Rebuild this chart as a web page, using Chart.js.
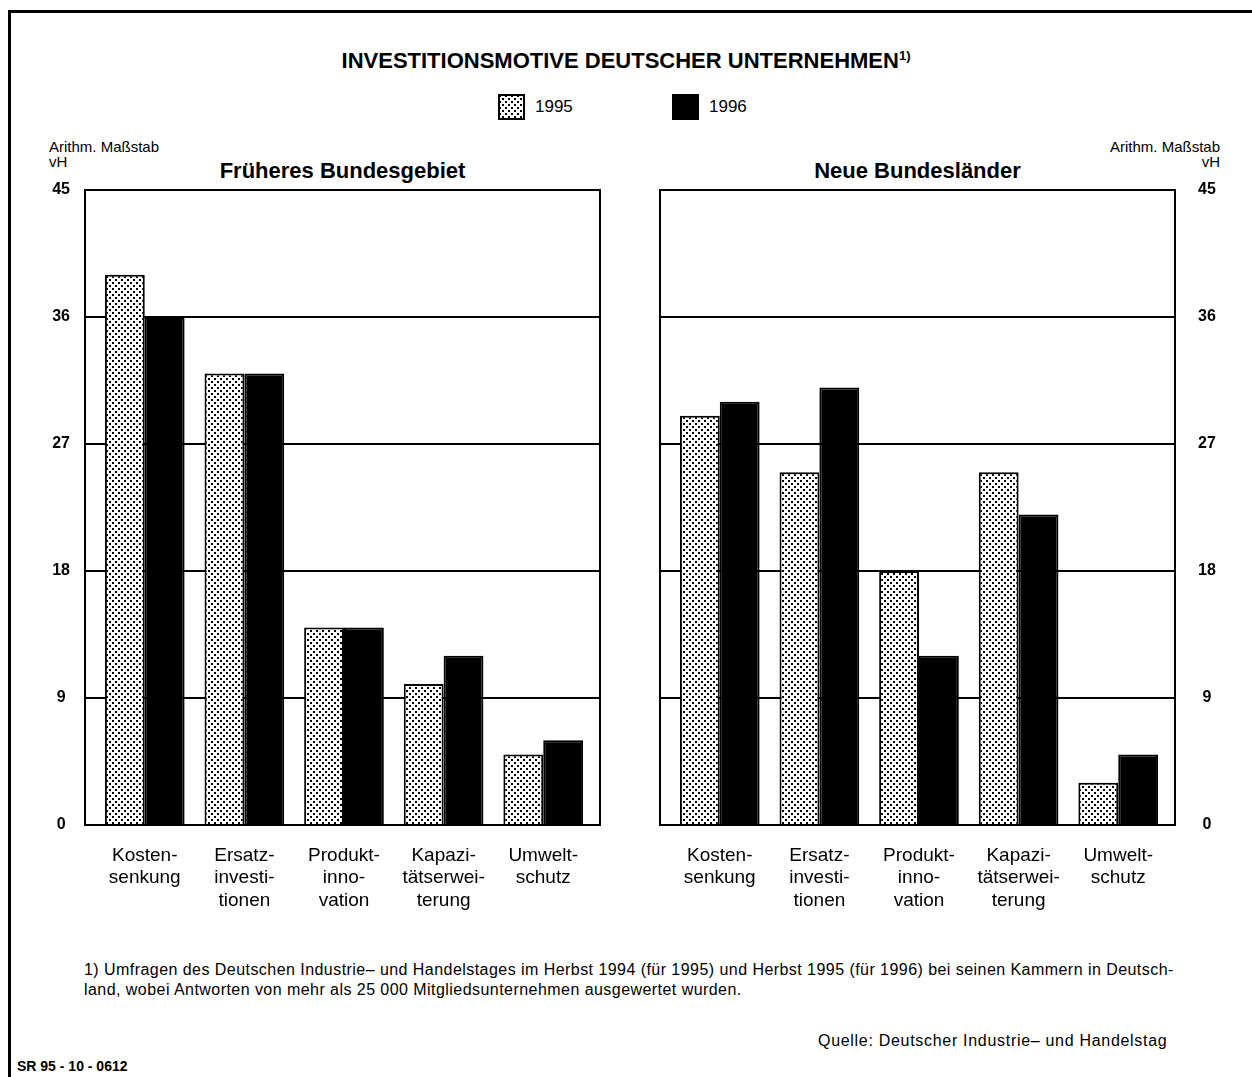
<!DOCTYPE html>
<html>
<head>
<meta charset="utf-8">
<script src="https://cdn.jsdelivr.net/npm/chart.js@4.4.1/dist/chart.umd.min.js"></script>
<style>
  body { margin:0; background:#fff; width:1252px; height:1077px; position:relative; overflow:hidden;
         font-family:"Liberation Sans", Arial, sans-serif; color:#000; }
  .abs { position:absolute; white-space:nowrap; }
  #frameTop { left:8px; top:10px; width:1244px; height:3px; background:#000; }
  #frameLeft { left:8px; top:10px; width:3px; height:1067px; background:#000; }
  #title { left:0; width:1252px; top:48px; text-align:center; font-weight:bold; font-size:22px; }
  #title sup { font-size:13px; vertical-align:8px; }
  .sw { width:27px; height:26px; border:2px solid #000; box-sizing:border-box; }
  #sw95 { left:498px; top:94px;
          background: radial-gradient(circle, #000 0.9px, transparent 1.3px) 0 0/6px 6px,
                      radial-gradient(circle, #000 0.9px, transparent 1.3px) 3px 3px/6px 6px, #fff; }
  #sw96 { left:672px; top:94px; background:#000; }
  .lg { font-size:17px; top:97px; }
  .panel { font-weight:bold; font-size:22px; top:158px; }
  .unit { font-size:15px; line-height:15px; }
  canvas { position:absolute; }
</style>
</head>
<body>
<div id="frameTop" class="abs"></div>
<div id="frameLeft" class="abs"></div>
<div id="title" class="abs">INVESTITIONSMOTIVE DEUTSCHER UNTERNEHMEN<sup>1)</sup></div>
<div id="sw95" class="abs sw"></div>
<div class="abs lg" style="left:535px">1995</div>
<div id="sw96" class="abs sw"></div>
<div class="abs lg" style="left:709px">1996</div>

<div class="abs unit" style="left:49px; top:139px">Arithm. Maßstab<br>vH</div>
<div class="abs unit" style="left:1000px; width:220px; text-align:right; top:139px">Arithm. Maßstab<br>vH</div>
<div class="abs panel" style="left:85px; width:515px; text-align:center">Früheres Bundesgebiet</div>
<div class="abs panel" style="left:660px; width:515px; text-align:center">Neue Bundesländer</div>

<canvas id="west" style="left:40px; top:180px"></canvas>
<canvas id="east" style="left:650px; top:180px"></canvas>

<div class="abs" style="left:84px; top:960px; line-height:20px; font-size:16px; letter-spacing:0.45px">1) Umfragen des Deutschen Industrie– und Handelstages im Herbst 1994 (für 1995) und Herbst 1995 (für 1996) bei seinen Kammern in Deutsch-<br>land, wobei Antworten von mehr als 25 000 Mitgliedsunternehmen ausgewertet wurden.</div>
<div class="abs" style="left:818px; top:1032px; font-size:16px; letter-spacing:0.7px">Quelle: Deutscher Industrie– und Handelstag</div>
<div class="abs" style="left:17px; top:1058px; font-size:14px; font-weight:bold">SR 95 - 10 - 0612</div>

<script>
var categories = [
  ["Kosten-", "senkung"],
  ["Ersatz-", "investi-", "tionen"],
  ["Produkt-", "inno-", "vation"],
  ["Kapazi-", "tätserwei-", "terung"],
  ["Umwelt-", "schutz"]
];
var west1995 = [39, 32, 14, 10, 5];
var west1996 = [36, 32, 14, 12, 6];
var east1995 = [29, 25, 18, 25, 3];
var east1996 = [30, 31, 12, 22, 5];
var yMax = 45;
var yStep = 9;

function makeDots(){
  var c = document.createElement("canvas");
  c.width = 6; c.height = 6;
  var g = c.getContext("2d");
  g.fillStyle = "#fff";
  g.fillRect(0, 0, 6, 6);
  g.fillStyle = "#000";
  g.fillRect(0, 0, 2, 2);
  g.fillRect(3, 3, 2, 2);
  return g.createPattern(c, "repeat");
}
var dots = makeDots();

var framePlugin = {
  id: "frame",
  afterDatasetsDraw: function(chart){
    var a = chart.chartArea, ctx = chart.ctx;
    ctx.save();
    ctx.strokeStyle = "#000";
    ctx.lineWidth = 2;
    ctx.strokeRect(a.left, a.top, a.right - a.left, a.bottom - a.top);
    ctx.restore();
  }
};

// keep the plot box where the picture has it: no extra label padding
function noPad(s){
  s.paddingTop = 0; s.paddingBottom = 0;
  s.paddingLeft = 0; s.paddingRight = 0;
}

function drawPanel(id, d95, d96, side, w){
  var cv = document.getElementById(id);
  cv.width = w; cv.height = 760;
  cv.style.width = w + "px"; cv.style.height = "760px";
  new Chart(cv, {
    type: "bar",
    data: {
      labels: [0, 1, 2, 3, 4],
      datasets: [{
        label: "1995",
        data: d95,
        backgroundColor: dots,
        borderColor: "#000",
        borderWidth: 2,
        categoryPercentage: 0.8,
        barPercentage: 1.0
      }, {
        label: "1996",
        data: d96,
        backgroundColor: "#000",
        borderColor: "#000",
        borderWidth: 2,
        categoryPercentage: 0.8,
        barPercentage: 1.0
      }]
    },
    options: {
      responsive: false,
      animation: false,
      layout: { padding: side == "left" ? {top: 10, right: 10, left: 0, bottom: 0} : {top: 10, right: 0, left: 10, bottom: 0} },
      plugins: { legend: { display: false }, tooltip: { enabled: false } },
      scales: {
        x: {
          type: "linear",
          min: -0.6,
          max: 4.57,
          offset: false,
          grid: { display: false, offset: false },
          border: { display: false },
          afterFit: function(s){ s.height = 115; noPad(s); },
          ticks: {
            stepSize: 1,
            includeBounds: false,
            autoSkip: false,
            maxRotation: 0,
            padding: 11,
            color: "#000",
            font: { family: "'Liberation Sans', Arial, sans-serif", size: 19 },
            callback: function(v){ return Number.isInteger(v) && categories[v] ? categories[v] : ""; }
          }
        },
        y: {
          position: side,
          min: 0,
          max: yMax,
          afterFit: function(s){ s.width = side == "left" ? 45 : 65; noPad(s); },
          grid: { color: "#000", lineWidth: 2, drawTicks: false },
          border: { display: true, color: "#000", width: 2 },
          ticks: {
            stepSize: yStep,
            crossAlign: "center",
            padding: side == "left" ? 15 : 23,
            color: "#000",
            font: { family: "'Liberation Sans', Arial, sans-serif", size: 16, weight: "bold" }
          }
        }
      }
    },
    plugins: [framePlugin]
  });
}

drawPanel("west", west1995, west1996, "left", 570);
drawPanel("east", east1995, east1996, "right", 590);
</script>
</body>
</html>
